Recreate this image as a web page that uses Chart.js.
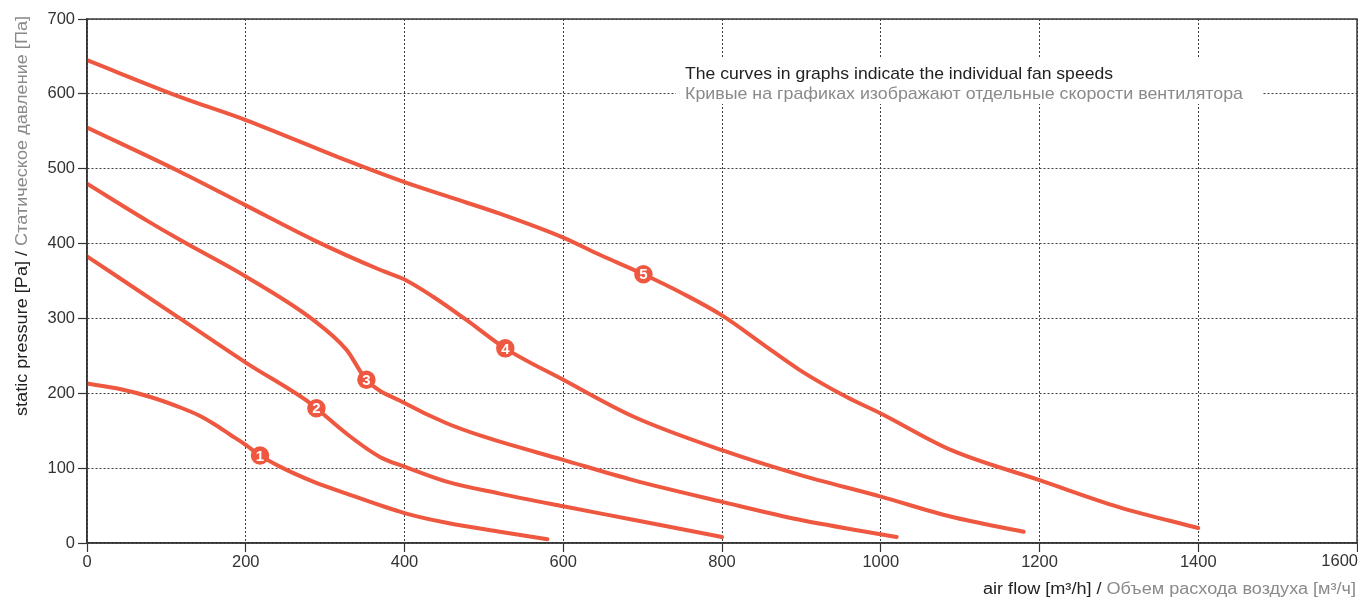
<!DOCTYPE html>
<html><head><meta charset="utf-8">
<script src="https://cdn.jsdelivr.net/npm/chart.js@4/dist/chart.umd.min.js"></script>
<style>html,body{margin:0;padding:0;background:#fff}#wrap{width:1358px;height:603px;position:relative}</style>
</head><body><div id="wrap"><canvas id="c"></canvas></div>
<script>
// Fan curves: air flow [m3/h] vs static pressure [Pa]
const flow1 = [0, 40, 80, 120, 140, 160, 180, 200, 218, 243, 285, 327, 400, 453, 520, 580];
const pressure1 = [213, 206, 195, 180, 171, 159, 145, 131, 117, 102, 82, 66, 40, 27, 15, 5];
const flow2 = [0, 117, 200, 281, 289, 327, 369, 400, 453, 520, 600, 688, 800];
const pressure2 = [383, 300, 241, 187, 180, 146, 115, 102, 82, 66, 49, 31, 8];
const flow3 = [0, 75, 117, 200, 285, 327, 352, 400, 453, 500, 600, 688, 800, 898, 1020];
const pressure3 = [480, 431, 405, 356, 298, 258, 218, 187, 160, 142, 111, 84, 55, 31, 8];
const flow4 = [0, 117, 200, 285, 369, 400, 436, 478, 527, 600, 688, 800, 898, 1000, 1089, 1180];
const pressure4 = [555, 496, 451, 405, 365, 352, 329, 298, 260, 218, 169, 124, 91, 62, 35, 15];
const flow5 = [0, 117, 200, 327, 400, 457, 520, 600, 646, 701, 751, 800, 856, 898, 957, 1000, 1089, 1200, 1300, 1400];
const pressure5 = [645, 596, 565, 511, 482, 462, 440, 408, 385, 359, 333, 304, 262, 231, 195, 173, 124, 84, 48, 20];

const markerFlow = [218, 289, 352, 527, 701];
const markerPressure = [117, 180, 218, 260, 359];
const markerLabels = ['1', '2', '3', '4', '5'];

const xTickValues = [0, 200, 400, 600, 800, 1000, 1200, 1400, 1600];
const yTickValues = [0, 100, 200, 300, 400, 500, 600, 700];

const noteLines = ['The curves in graphs indicate the individual fan speeds',
                   'Кривые на графиках изображают отдельные скорости вентилятора'];
const yTitleParts = ['static pressure [Pa] / ', 'Статическое давление [Па]'];
const xTitleParts = ['air flow [m³/h] / ', 'Объем расхода воздуха [м³/ч]'];

const RED = '#ef5840';
const DARK = '#222222';
const GRAY = '#8a8a8a';
const FONT = '"Liberation Sans", Arial, sans-serif';
const NARROW = '"Liberation Sans Narrow", "Liberation Sans", Arial, sans-serif';
const LAST_X = xTickValues[xTickValues.length - 1];

function pts(xs, ys) { return xs.map((x, i) => ({ x: x, y: ys[i] })); }
const curves = [[flow1, pressure1], [flow2, pressure2], [flow3, pressure3], [flow4, pressure4], [flow5, pressure5]];

const datasets = curves.map((c, i) => ({
  type: 'line',
  label: markerLabels[i],
  data: pts(c[0], c[1]),
  borderColor: RED,
  borderWidth: 4,
  pointRadius: 0,
  cubicInterpolationMode: 'monotone',
  borderCapStyle: 'round',
  borderJoinStyle: 'round',
  fill: false
}));
datasets.push({
  type: 'scatter',
  label: 'markers',
  data: pts(markerFlow, markerPressure),
  pointRadius: 10,
  pointBackgroundColor: RED,
  pointBorderColor: '#ffffff',
  pointBorderWidth: 1.5
});

function drawFitted(ctx, text, x, y, width, font, color) {
  ctx.save();
  ctx.font = font;
  const w = ctx.measureText(text).width;
  ctx.translate(x, y);
  ctx.scale(width / w, 1);
  ctx.fillStyle = color;
  ctx.textAlign = 'left';
  ctx.textBaseline = 'alphabetic';
  ctx.fillText(text, 0, 0);
  ctx.restore();
}

const extras = {
  id: 'extras',
  afterDatasetsDraw(chart) {
    const ctx = chart.ctx;
    const meta = chart.getDatasetMeta(5);
    ctx.save();
    ctx.fillStyle = '#ffffff';
    ctx.font = 'bold 15px ' + FONT;
    ctx.textAlign = 'center';
    ctx.textBaseline = 'middle';
    meta.data.forEach((p, i) => ctx.fillText(markerLabels[i], p.x, p.y + 1));
    ctx.restore();
  },
  afterDraw(chart) {
    const ctx = chart.ctx;
    const a = chart.chartArea;
    ctx.save();
    // frame
    ctx.strokeStyle = '#3a3a3a';
    ctx.lineWidth = 1.5;
    ctx.strokeRect(a.left, a.top, a.right - a.left, a.bottom - a.top);
    // note box
    ctx.fillStyle = '#ffffff';
    ctx.fillRect(676, 57, 586, 47);
    drawFitted(ctx, noteLines[0], 685, 79, 428, '17px ' + NARROW, DARK);
    drawFitted(ctx, noteLines[1], 685, 99, 558, '17px ' + NARROW, GRAY);
    // y title
    ctx.font = '16px ' + FONT;
    const w1 = ctx.measureText(yTitleParts[0]).width;
    const w2 = ctx.measureText(yTitleParts[1]).width;
    ctx.translate(27, 216);
    ctx.rotate(-Math.PI / 2);
    const s = 400 / (w1 + w2);
    ctx.scale(s, 1);
    ctx.textBaseline = 'alphabetic';
    ctx.textAlign = 'left';
    const x0 = -(w1 + w2) / 2;
    ctx.fillStyle = DARK;
    ctx.fillText(yTitleParts[0], x0, 0);
    ctx.fillStyle = GRAY;
    ctx.fillText(yTitleParts[1], x0 + w1, 0);
    ctx.restore();
    // x title
    ctx.save();
    ctx.font = '16px ' + FONT;
    const v1 = ctx.measureText(xTitleParts[0]).width;
    const v2 = ctx.measureText(xTitleParts[1]).width;
    const t = 373 / (v1 + v2);
    ctx.translate(983, 594);
    ctx.scale(t, 1);
    ctx.fillStyle = DARK;
    ctx.fillText(xTitleParts[0], 0, 0);
    ctx.fillStyle = GRAY;
    ctx.fillText(xTitleParts[1], v1, 0);
    ctx.restore();
    // last x tick label, kept inside the canvas
    const xs = chart.scales.x;
    ctx.save();
    ctx.font = '16.5px ' + FONT;
    ctx.fillStyle = '#333';
    ctx.textAlign = 'right';
    ctx.textBaseline = 'top';
    ctx.fillText(String(LAST_X), Math.min(xs.getPixelForValue(LAST_X) + 18, 1358), a.bottom + 10);
    ctx.restore();
  }
};

const gridCommon = { color: '#3c3c3c', lineWidth: 1, tickLength: 9, tickColor: '#333', tickWidth: 1.2, drawTicks: true };

new Chart(document.getElementById('c'), {
  data: { datasets: datasets },
  options: {
    responsive: true,
    maintainAspectRatio: false,
    animation: false,
    events: [],
    layout: { autoPadding: false, padding: { top: 19, right: 1, left: 0, bottom: 0 } },
    plugins: { legend: { display: false }, tooltip: { enabled: false } },
    scales: {
      x: {
        type: 'linear', min: 0, max: 1600,
        afterBuildTicks: sc => { sc.ticks = xTickValues.map(v => ({ value: v })); },
        ticks: { font: { size: 16.5, family: FONT }, color: '#333', padding: 1, maxRotation: 0, autoSkip: false,
                 callback: v => (v === LAST_X ? '' : String(v)) },
        grid: gridCommon,
        border: { color: '#333', width: 1.5, dash: [2, 2] },
        afterFit: sc => { sc.height = 60; sc.paddingRight = 0; sc.paddingLeft = 0; }
      },
      y: {
        type: 'linear', min: 0, max: 700,
        afterBuildTicks: sc => { sc.ticks = yTickValues.map(v => ({ value: v })); },
        ticks: { font: { size: 16.5, family: FONT }, color: '#333', padding: 3, autoSkip: false,
                 callback: v => String(v) },
        grid: gridCommon,
        border: { color: '#333', width: 1.5, dash: [2, 2] },
        afterFit: sc => { sc.width = 87; }
      }
    }
  },
  plugins: [extras]
});
</script></body></html>
